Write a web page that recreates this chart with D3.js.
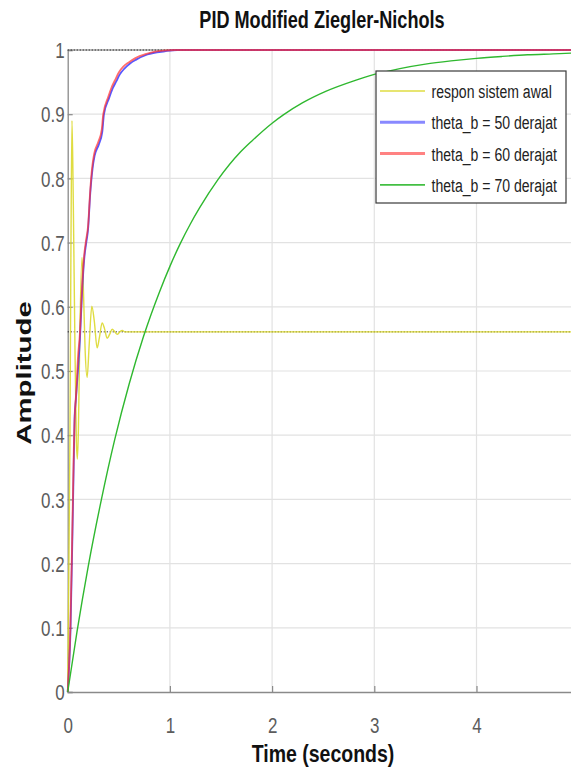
<!DOCTYPE html>
<html>
<head>
<meta charset="utf-8">
<script src="https://cdn.jsdelivr.net/npm/d3@7"></script>
<style>
  html, body { margin: 0; padding: 0; background: #fff; }
  svg { display: block; }
  text { font-family: "Liberation Sans", Arial, Helvetica, sans-serif; }
</style>
</head>
<body>
<svg id="chart" width="571" height="776"></svg>
<script>
// Step responses (time in seconds, amplitude)
const responAwal = [
  [0, 0], [0.012, 0.2], [0.022, 0.4], [0.032, 0.7], [0.042, 0.89], [0.055, 0.76],
  [0.07, 0.55], [0.085, 0.39], [0.095, 0.363], [0.105, 0.41], [0.12, 0.57],
  [0.14, 0.677], [0.155, 0.62], [0.17, 0.535], [0.19, 0.49], [0.21, 0.54],
  [0.236, 0.601], [0.26, 0.578], [0.288, 0.536], [0.31, 0.552], [0.337, 0.575],
  [0.36, 0.566], [0.386, 0.551], [0.41, 0.557], [0.436, 0.565], [0.46, 0.561],
  [0.485, 0.557], [0.51, 0.561], [0.535, 0.563], [0.56, 0.561], [0.6, 0.561],
  [5, 0.561]
];
const theta50 = [
  [0, 0], [0.028, 0.1], [0.047, 0.25], [0.062, 0.38], [0.068, 0.43], [0.08, 0.455],
  [0.1, 0.5], [0.12, 0.55], [0.14, 0.62], [0.162, 0.675], [0.18, 0.698],
  [0.2, 0.722], [0.22, 0.775], [0.243, 0.815], [0.263, 0.835], [0.305, 0.853],
  [0.338, 0.872], [0.355, 0.9], [0.405, 0.925], [0.44, 0.94], [0.475, 0.951],
  [0.51, 0.962], [0.555, 0.971], [0.61, 0.979], [0.67, 0.985], [0.78, 0.993],
  [0.95, 0.998], [1.07, 1.0], [5, 1.0]
];
const theta60 = [
  [0, 0], [0.026, 0.1], [0.045, 0.25], [0.06, 0.38], [0.072, 0.44], [0.085, 0.47],
  [0.1, 0.52], [0.12, 0.56], [0.14, 0.63], [0.16, 0.678], [0.178, 0.702],
  [0.2, 0.727], [0.22, 0.78], [0.24, 0.818], [0.26, 0.839], [0.3, 0.857],
  [0.333, 0.876], [0.348, 0.9], [0.397, 0.927], [0.43, 0.942], [0.463, 0.953],
  [0.5, 0.965], [0.544, 0.974], [0.6, 0.981], [0.658, 0.987], [0.77, 0.994],
  [0.935, 0.999], [1.05, 1.0], [5, 1.0]
];
const theta70 = [
  [0, 0], [0.09, 0.093], [0.2, 0.195], [0.33, 0.3], [0.46, 0.393], [0.6, 0.479],
  [0.74, 0.553], [0.9, 0.624], [1.0, 0.663], [1.1, 0.698], [1.2, 0.729],
  [1.29, 0.754], [1.47, 0.798], [1.69, 0.841], [1.8, 0.858], [2.0, 0.886],
  [2.11, 0.899], [2.3, 0.918], [2.53, 0.936], [2.8, 0.952], [3.0, 0.962],
  [3.25, 0.971], [3.5, 0.978], [3.75, 0.983], [4.0, 0.987], [4.25, 0.99],
  [4.5, 0.9925], [4.75, 0.994], [5.0, 0.9956]
];
const steadyValues = [1.0, 0.561];
const seriesNames = ["respon sistem awal", "theta_b = 50 derajat", "theta_b = 60 derajat", "theta_b = 70 derajat"];
const xTicks = [0, 1, 2, 3, 4];
const yTicks = [0, 0.1, 0.2, 0.3, 0.4, 0.5, 0.6, 0.7, 0.8, 0.9, 1];

const series = [
  { name: seriesNames[0], data: responAwal, color: "#dcd82c", width: 1.4, opacity: 0.9, lw: 1.6 },
  { name: seriesNames[1], data: theta50, color: "#3b3bff", width: 1.8, opacity: 0.85, lw: 3 },
  { name: seriesNames[2], data: theta60, color: "#ff2f2f", width: 1.8, opacity: 0.7, lw: 3 },
  { name: seriesNames[3], data: theta70, color: "#2fb82f", width: 1.4, opacity: 1, lw: 1.6 }
];

const svg = d3.select("#chart");
const plotL = 67.7, plotR = 578.7, plotT = 50, plotB = 692;
const x = d3.scaleLinear().domain([0, 5]).range([plotL, plotR]);
const y = d3.scaleLinear().domain([0, 1]).range([plotB, plotT]);
const SX = 0.77; // horizontal squeeze of the lettering

// Grid
const grid = svg.append("g");
grid.selectAll("line.gx").data(xTicks.filter(d => d > 0)).join("line")
  .attr("x1", d => x(d)).attr("x2", d => x(d)).attr("y1", plotT).attr("y2", plotB)
  .attr("stroke", "#e2e2e2").attr("stroke-width", 1.2);
grid.selectAll("line.gy").data(yTicks.filter(d => d > 0)).join("line")
  .attr("x1", plotL).attr("x2", plotR).attr("y1", d => y(d)).attr("y2", d => y(d))
  .attr("stroke", "#e2e2e2").attr("stroke-width", 1.2);

// Axes
const xAxis = svg.append("g").attr("transform", `translate(0,${plotB})`)
  .call(d3.axisBottom(x).tickValues(xTicks).tickSize(-6).tickPadding(25).tickFormat(d3.format("d")));
const yAxis = svg.append("g").attr("transform", `translate(${plotL},0)`)
  .call(d3.axisLeft(y).tickValues(yTicks).tickSize(-5).tickPadding(4).tickFormat(d => d === 0 || d === 1 ? String(d) : d3.format(".1f")(d)));
[xAxis, yAxis].forEach(a => {
  a.select(".domain").attr("stroke", "#8a8a8a").attr("stroke-width", 1.3);
  a.selectAll(".tick line").attr("stroke", "#8a8a8a").attr("stroke-width", 1.2);
  a.selectAll(".tick text").attr("fill", "#5c5c5c").attr("font-size", 22)
    .attr("transform", `scale(${SX},1)`);
});
xAxis.selectAll(".tick text").attr("dy", "0.71em");
yAxis.selectAll(".tick text").attr("dy", "0.35em");
// top border
svg.append("line").attr("x1", plotL).attr("x2", plotR).attr("y1", plotT).attr("y2", plotT)
  .attr("stroke", "#8a8a8a").attr("stroke-width", 1);

// Steady-state markers
svg.append("g").selectAll("line").data(steadyValues).join("line")
  .attr("x1", plotL).attr("x2", plotR).attr("y1", d => y(d)).attr("y2", d => y(d))
  .attr("stroke", "#222").attr("stroke-width", 1).attr("stroke-dasharray", "1.2,1.8");

// Response curves
const line = d3.line().x(d => x(d[0])).y(d => y(d[1])).curve(d3.curveMonotoneX);
svg.append("g").selectAll("path").data(series).join("path")
  .attr("d", d => line(d.data))
  .attr("fill", "none")
  .attr("stroke", d => d.color)
  .attr("stroke-width", d => d.width)
  .attr("stroke-opacity", d => d.opacity)
  .attr("stroke-linejoin", "round");

// Legend
const lg = svg.append("g");
lg.append("rect").attr("x", 376).attr("y", 71).attr("width", 190).attr("height", 132)
  .attr("fill", "#fff").attr("stroke", "#3a3a3a").attr("stroke-width", 1.2);
const rows = lg.selectAll("g.row").data(series).join("g")
  .attr("transform", (d, i) => `translate(0,${91 + i * 31.3})`);
rows.append("line").attr("x1", 380).attr("x2", 425).attr("y1", 0).attr("y2", 0)
  .attr("stroke", d => d.color).attr("stroke-width", d => d.lw)
  .attr("stroke-opacity", (d, i) => (i === 1 || i === 2) ? 0.6 : 0.9);
rows.append("text").attr("transform", "translate(431.5,7) scale(0.74,1)")
  .attr("font-size", 19).attr("fill", "#222")
  .text(d => d.name);

// Titles
svg.append("text").attr("transform", `translate(322,27.5) scale(${SX},1)`).attr("text-anchor", "middle")
  .attr("font-size", 23.5).attr("font-weight", "bold").attr("fill", "#111")
  .text("PID Modified Ziegler-Nichols");
svg.append("text").attr("transform", "translate(323,762) scale(0.83,1)").attr("text-anchor", "middle")
  .attr("font-size", 23.5).attr("font-weight", "bold").attr("fill", "#111")
  .text("Time (seconds)");
svg.append("text").attr("transform", "translate(31,373) rotate(-90) scale(1.4,1)").attr("text-anchor", "middle")
  .attr("font-size", 21).attr("font-weight", "bold").attr("fill", "#111")
  .text("Amplitude");
</script>
</body>
</html>
